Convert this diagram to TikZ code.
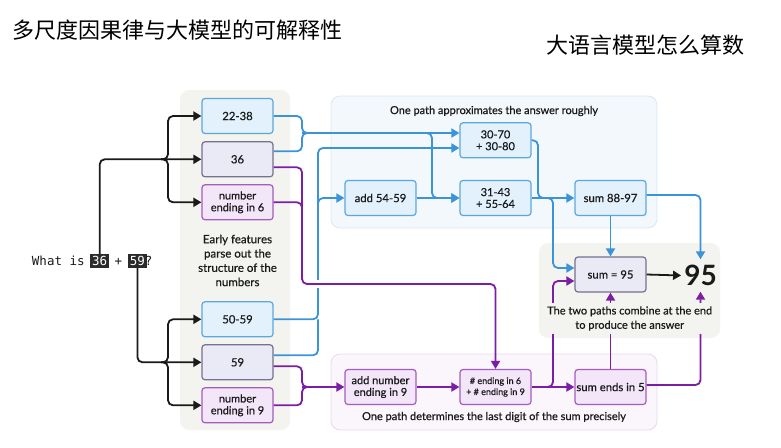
\documentclass[tikz,border=0pt]{standalone}
\usepackage{fontspec}
\setmainfont{Lato}
\newfontfamily\medfont{Lato}[FakeBold=0.6]
\newfontfamily\cjkfont{Noto Sans CJK SC}
\newfontfamily\monofont{DejaVu Sans Mono}
\usetikzlibrary{arrows.meta,backgrounds}
\definecolor{lnblue}{HTML}{3B93D8}
\definecolor{lnpurple}{HTML}{7A1EA6}
\definecolor{bxbluefill}{HTML}{E2F1FB}
\definecolor{bxblueline}{HTML}{5BA8DE}
\definecolor{bxlavfill}{HTML}{EAE9F6}
\definecolor{bxlavline}{HTML}{77708F}
\definecolor{bxpurfill}{HTML}{F3E6F8}
\definecolor{bxpurline}{HTML}{A45DBE}
\definecolor{pnlgray}{HTML}{F3F3EF}
\definecolor{pnlblue}{HTML}{F3F8FC}
\definecolor{pnlblueline}{HTML}{D9E8F4}
\definecolor{pnlpur}{HTML}{FBF5FC}
\definecolor{pnlpurline}{HTML}{EAD8F0}
\definecolor{ink}{HTML}{1A1A1A}
\definecolor{hlfill}{HTML}{2B2B2B}
\begin{document}
\begin{tikzpicture}[x=1pt,y=-1pt,
  font=\medfont\fontsize{11.3}{12}\selectfont,
  box/.style={draw, rounded corners=3pt, line width=1.2pt, minimum width=71pt,
    minimum height=35pt, align=center, inner sep=1pt, text=ink},
  bluebox/.style={box, fill=bxbluefill, draw=bxblueline},
  lavbox/.style={box, fill=bxlavfill, draw=bxlavline},
  purbox/.style={box, fill=bxpurfill, draw=bxpurline},
  twoline/.style={font=\medfont\fontsize{11}{11.8}\selectfont},
  panel/.style={rounded corners=9pt, line width=0.8pt},
  note/.style={align=center, text=ink, font=\medfont\fontsize{11}{14.3}\selectfont},
  mono/.style={font=\monofont\fontsize{12.5}{14}\selectfont, inner sep=0pt, text=ink},
  hl/.style={mono, fill=hlfill, text=white, inner xsep=2pt, inner ysep=2pt,
    text height=9.5pt, text depth=0.5pt},
  wire/.style={line width=1.8pt, rounded corners=5pt},
  tip/.style={-{Triangle[length=8pt,width=9pt]}},
  bline/.style={wire, draw=lnblue},
  bconn/.style={bline, tip},
  pline/.style={wire, draw=lnpurple},
  pconn/.style={pline, tip},
  kline/.style={wire, draw=ink},
  kconn/.style={kline, tip},
]
\useasboundingbox (0,0) rectangle (781,447);

% titles
\node[anchor=west, inner sep=0pt, font=\cjkfont\fontsize{22}{24}\selectfont] (t1) at (12,30) {多尺度因果律与大模型的可解释性};
\node[anchor=east, inner sep=0pt, font=\cjkfont\fontsize{22}{24}\selectfont] (t2) at (745,45) {大语言模型怎么算数};

% panels
\begin{scope}[on background layer]
\path[panel, fill=pnlgray] (180,90) rectangle (290,430);
\path[panel, fill=pnlblue, draw=pnlblueline] (331,96) rectangle (657,228);
\path[panel, fill=pnlgray] (539,243) rectangle (720,338);
\path[panel, fill=pnlpur, draw=pnlpurline] (331,354) rectangle (657,430);
\end{scope}

% question
\node[mono, anchor=base] (qa) at (58.3,265.5) {What is};
\node[hl, anchor=base] (h36) at (99.7,265.5) {36};
\node[mono, anchor=base] (qp) at (118.5,265.5) {+};
\node[hl, anchor=base] (h59) at (137.4,265.5) {59};
\node[mono, anchor=base] (qq) at (148.6,265.5) {?};

% feature boxes
\node[bluebox] (b2238) at (237.5,116) {22-38};
\node[lavbox] (b36) at (237.5,159.3) {36};
\node[purbox, twoline] (b6) at (237.5,202.3) {number\\ending in 6};
\node[note, font=\medfont\fontsize{11.5}{14.3}\selectfont] (early) at (237.5,260.5) {Early features\\parse out the\\structure of the\\numbers};
\node[bluebox] (b5059) at (237.5,319.3) {50-59};
\node[lavbox] (b59) at (237.5,362.3) {59};
\node[purbox, twoline] (b9) at (237.5,405.3) {number\\ending in 9};

% approximate path
\node[note] (ttop) at (494,111) {One path approximates the answer roughly};
\node[bluebox, twoline] (c3070) at (495.5,140.3) {30-70\\+ 30-80};
\node[bluebox, twoline] (c3143) at (495.5,198) {31-43\\+ 55-64};
\node[bluebox] (add54) at (380.5,198) {add 54-59};
\node[bluebox] (s8897) at (610.5,198) {sum 88-97};

% combine
\node[lavbox] (s95) at (610.5,274.5) {sum = 95};
\node[font=\bfseries\fontsize{28}{30}\selectfont, text=ink, inner xsep=3pt, inner ysep=0pt, minimum height=32pt] (ans) at (700.5,275.5) {95};

% precise path
\node[purbox, twoline] (addn) at (380.5,387) {add number\\ending in 9};
\node[purbox, font=\medfont\fontsize{9}{11}\selectfont] (ce) at (495.5,387) {\# ending in 6\\+ \# ending in 9};
\node[purbox] (se5) at (610.5,387) {sum ends in 5};
\node[note] (tbot) at (494,417) {One path determines the last digit of the sum precisely};

% black input wires
\coordinate (kj1) at (168,159.3);
\coordinate (kj2) at (168,362.3);
\draw[kconn] (h36.north) |- (b36.west);
\draw[kconn] ([xshift=-7pt]kj1) -- (kj1) |- (b2238.west);
\draw[kconn] ([xshift=-7pt]kj1) -- (kj1) |- (b6.west);
\draw[kconn] (h59.south) |- (b59.west);
\draw[kconn] ([xshift=-7pt]kj2) -- (kj2) |- (b5059.west);
\draw[kconn] ([xshift=-7pt]kj2) -- (kj2) |- (b9.west);

% blue wires
\coordinate (bj1) at (302,133);
\coordinate (bj2) at (432,133);
\coordinate (bj3) at (318,319.3);
\coordinate (bj4) at (318,212);
\coordinate (bj5) at (538,198);
\coordinate (bj6) at (553,198);
\draw[bline] (b2238.east) -| (bj1) -- ++(7,0);
\draw[bline] ([yshift=8pt]b36.east) -| (bj1) -- ++(7,0);
\draw[bconn] (bj1) -- ([yshift=7.3pt]c3070.west);
\draw[bconn] ([xshift=-7pt]bj2) -- (bj2) |- (c3143.west);
\draw[bline] ([yshift=7pt]b59.east) -| (bj3);
\draw[bconn] (b5059.east) -- (bj3) |- ([yshift=-7.7pt]c3070.west);
\draw[bconn] (bj4) |- (add54.west);
\draw[bconn] (add54) -- (c3143);
\draw[bline] (c3070.east) -| (bj5) -- ++(7,0);
\draw[bconn] (c3143.east) -- (s8897.west);
\draw[bconn] ([xshift=-7pt]bj6) -- (bj6) |- ([yshift=6.5pt]s95.west);
\draw[bconn] (s8897.south) -- (s95.north);
\draw[bconn] ([yshift=3pt]s8897.east) -| (ans.north);

% purple wires
\coordinate (pj0) at (302,214);
\coordinate (pj1) at (302,284);
\coordinate (pjx) at (318,284);
\coordinate (pj3) at (302,387);
\coordinate (pj4) at (553,387);
\draw[white, line width=8pt] ([xshift=-5pt]pjx) -- ([xshift=5pt]pjx);
\draw[pconn] ([yshift=-8pt]b36.east) -| (pj1) -| (ce.north);
\draw[pline] (b6.east) -| (pj0);
\draw[pline] ([yshift=-4pt]b59.east) -| (pj3) -- ++(7,0);
\draw[pline] (b9.east) -| (pj3) -- ++(7,0);
\draw[pconn] (pj3) -- (addn.west);
\draw[pconn] (addn) -- (ce);
\draw[pconn] (ce) -- (se5);
\draw[pconn] ([xshift=-7pt]pj4) -- (pj4) |- ([yshift=-6.5pt]s95.west);
\draw[pconn] (se5.north) -- (s95.south);
\draw[pconn] ([yshift=2pt]se5.east) -| (ans.south);

% final
\draw[kconn] (s95.east) -- (ans.west);
\node[note, fill=pnlgray, inner ysep=3pt, inner xsep=1pt] (tcomb) at (629.7,318.5) {The two paths combine at the end\\to produce the answer};
\end{tikzpicture}
\end{document}
